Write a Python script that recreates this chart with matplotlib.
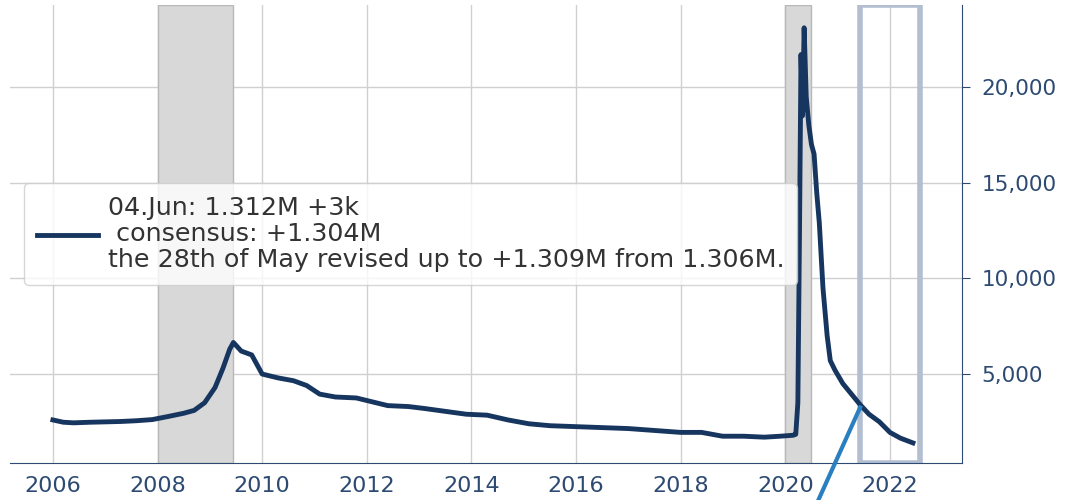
import matplotlib
matplotlib.use('Agg')
import matplotlib.pyplot as plt
from matplotlib.patches import Rectangle

# continuing claims, thousands
years = [2006.0, 2006.2, 2006.4, 2006.7, 2007.0, 2007.3, 2007.6, 2007.9,
         2008.2, 2008.5, 2008.7, 2008.9, 2009.1, 2009.25, 2009.38, 2009.45,
         2009.6, 2009.8, 2010.0, 2010.3, 2010.6, 2010.85, 2011.1, 2011.4,
         2011.8, 2012.1, 2012.4, 2012.8, 2013.1, 2013.5, 2013.9, 2014.3,
         2014.7, 2015.1, 2015.5, 2016.0, 2016.5, 2017.0, 2017.5, 2018.0,
         2018.4, 2018.8, 2019.2, 2019.6, 2019.9, 2020.15, 2020.2, 2020.24,
         2020.27, 2020.3, 2020.33, 2020.36, 2020.4, 2020.45, 2020.5, 2020.55,
         2020.6, 2020.65, 2020.72, 2020.8, 2020.86, 2020.95, 2021.1, 2021.25,
         2021.43, 2021.6, 2021.8, 2022.0, 2022.2, 2022.44]
claims = [2600, 2480, 2450, 2480, 2500, 2520, 2560, 2620,
          2780, 2950, 3100, 3500, 4300, 5300, 6300, 6650,
          6200, 6000, 5000, 4800, 4650, 4400, 3950, 3800,
          3750, 3550, 3350, 3300, 3200, 3050, 2900, 2850,
          2600, 2400, 2300, 2250, 2200, 2150, 2050, 1950,
          1950, 1750, 1750, 1700, 1750, 1800, 1850, 3500,
          12000, 21700, 18500, 23100, 19500, 18000, 17000, 16500,
          14500, 12900, 9500, 7000, 5700, 5200, 4500, 4000,
          3400, 2900, 2500, 1950, 1650, 1400]

recessions = [(2008.0, 2009.45), (2020.0, 2020.49)]
highlight = (2021.43, 2022.58)
pointer_x = [2021.43, 2020.63]
pointer_y = [3250, -1600]

label = ('04.Jun: 1.312M +3k\n consensus: +1.304M\n'
         'the 28th of May revised up to +1.309M from 1.306M.')

navy = '#17365f'
axis_col = '#2d4a72'

fig = plt.figure(figsize=(10.65, 5), dpi=100)
ax = fig.add_axes([0.0094, 0.074, 0.894, 0.916])

for a, b in recessions:
    ax.axvspan(a, b, facecolor='#d8d8d8', edgecolor='#b8b8b8', lw=1, zorder=1)

ax.plot(years, claims, color=navy, lw=3.5, label=label, zorder=3)

ax.add_patch(Rectangle((highlight[0], 0), highlight[1] - highlight[0], 1,
                       transform=ax.get_xaxis_transform(), fill=False,
                       edgecolor='#b3bed0', lw=4, zorder=2))
ax.plot(pointer_x, pointer_y, color='#2a7fc0', lw=3, clip_on=False, zorder=4)

ax.set_xlim(2005.18, 2023.38)
ax.set_ylim(350, 24290)
ax.set_xticks(range(2006, 2023, 2))
ax.set_yticks([5000, 10000, 15000, 20000])
ax.yaxis.set_major_formatter(matplotlib.ticker.StrMethodFormatter('{x:,.0f}'))
ax.yaxis.tick_right()
ax.grid(True, color='#d0d0d0', lw=1)
ax.set_axisbelow(True)

for s in ['top', 'left']:
    ax.spines[s].set_visible(False)
for s in ['bottom', 'right']:
    ax.spines[s].set_color(axis_col)
ax.tick_params(axis='x', length=0, labelsize=16, labelcolor=axis_col, pad=9)
ax.tick_params(axis='y', length=6, color=axis_col, labelsize=15.5,
               labelcolor=axis_col, pad=8)

leg = ax.legend(loc='center left', fontsize=18.3, handlelength=2.4,
                handletextpad=0.4, framealpha=0.8, borderaxespad=0.55,
                borderpad=0.5)
for t in leg.get_texts():
    t.set_color('#333333')
    t.set_linespacing(1.1)

fig.savefig('out.png', dpi=100)
